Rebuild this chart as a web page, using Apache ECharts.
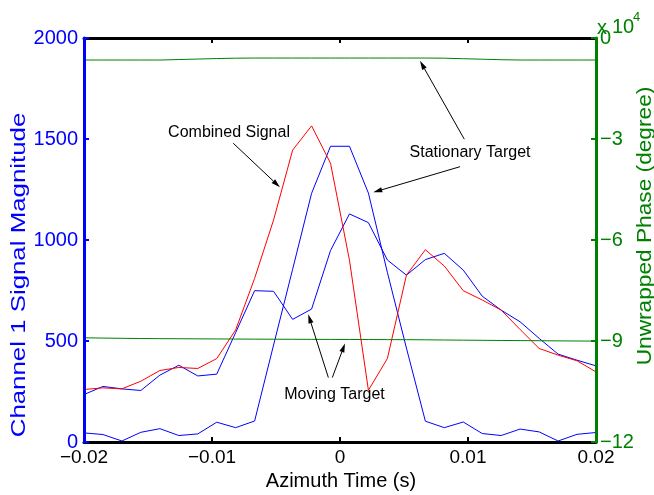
<!DOCTYPE html>
<html>
<head>
<meta charset="utf-8">
<script src="https://cdn.jsdelivr.net/npm/echarts@6/dist/echarts.min.js"></script>
<style>
  html, body { margin: 0; padding: 0; background: #fff; }
  #main { width: 654px; height: 495px; }
</style>
</head>
<body>
<div id="main"></div>
<script>
// Azimuth sample times (s)
const TIME = [-0.02000, -0.01852, -0.01704, -0.01556, -0.01407, -0.01259, -0.01111,
  -0.00963, -0.00815, -0.00667, -0.00519, -0.00370, -0.00222, -0.00074,
  0.00074, 0.00222, 0.00370, 0.00519, 0.00667, 0.00815, 0.00963,
  0.01111, 0.01259, 0.01407, 0.01556, 0.01704, 0.01852, 0.02000];

// Channel 1 magnitude
const STATIONARY_MAG = [45, 37, 5, 48, 66, 32, 40, 98, 71, 104, 480, 855, 1231, 1464,
  1464, 1232, 840, 465, 103, 71, 99, 42, 32, 64, 50, 5, 38, 47];
const MOVING_MAG = [235, 275, 263, 255, 331, 380, 327, 336, 542, 749, 746, 607, 658, 948,
  1129, 1086, 901, 826, 903, 934, 851, 722, 653, 595, 513, 435, 405, 377];
const COMBINED_MAG = [260, 268, 263, 301, 354, 369, 364, 413, 555, 810, 1099, 1445, 1565, 1380,
  900, 256, 413, 826, 952, 871, 749, 703, 653, 557, 463, 430, 402, 347];

// Unwrapped phase (degree)
const STATIONARY_PHASE = [-6540, -6540, -6540, -6540, -6540, -6400, -6250, -6100, -6000, -5950,
  -5950, -5950, -5950, -5950, -5950, -5950, -5950, -5950, -5950, -6000, -6150,
  -6300, -6450, -6540, -6540, -6540, -6540, -6540];
const MOVING_PHASE = [-89060, -89130, -89200, -89260, -89300, -89330, -89360, -89390, -89420,
  -89450, -89470, -89490, -89510, -89530, -89550, -89570, -89590, -89610, -89650,
  -89700, -89750, -89800, -89840, -89880, -89920, -89960, -90000, -90040];

// Callouts, anchored in (time, magnitude) coordinates
const CALLOUTS = [
  { text: 'Combined Signal', at: [-0.00867, 1530],
    arrows: [[[-0.00834, 1479], [-0.00469, 1261]]] },
  { text: 'Stationary Target', at: [0.01016, 1433],
    arrows: [[[0.00971, 1499], [0.00625, 1887]], [[0.00938, 1363], [0.00260, 1236]]] },
  { text: 'Moving Target', at: [-0.00043, 236],
    arrows: [[[-0.00091, 319], [-0.00248, 632]], [[-0.00060, 319], [0.00039, 488]]] }
];

const FONT = '"Liberation Sans", Arial, Helvetica, sans-serif';
const BLUE = '#0000ff', RED = '#ff0000', GREEN = '#008000', BLACK = '#000000';

function zip(xs, ys) { return xs.map((x, i) => [x, ys[i]]); }
function minusFmt(s) { return s.replace('-', '\u2212'); }

const chart = echarts.init(document.getElementById('main'));

const lineSeries = (name, data, color, yAxisIndex) => ({
  name, type: 'line', data, yAxisIndex, xAxisIndex: 0,
  showSymbol: false, symbol: 'none', animation: false,
  lineStyle: { color, width: 1 }, z: 3
});

chart.setOption({
  animation: false,
  backgroundColor: '#ffffff',
  grid: { left: 84, right: 58, top: 38, bottom: 53, containLabel: false },
  xAxis: [{
    type: 'value', position: 'bottom', min: -0.02, max: 0.02, interval: 0.01,
    axisLine: { onZero: false, lineStyle: { color: BLACK, width: 3 } },
    axisTick: { inside: true, length: 5, lineStyle: { color: BLACK, width: 2 } },
    axisLabel: {
      color: BLACK, fontSize: 19, fontFamily: FONT, margin: 6,
      formatter: v => {
        const r = Math.round(v * 100) / 100;
        return r === 0 ? '0' : minusFmt(r.toFixed(2));
      }
    },
    splitLine: { show: false }, z: 5
  }, {
    type: 'value', position: 'top', min: -0.02, max: 0.02, interval: 0.01,
    axisLine: { onZero: false, lineStyle: { color: BLACK, width: 3 } },
    axisTick: { inside: true, length: 5, lineStyle: { color: BLACK, width: 2 } },
    axisLabel: { show: false }, splitLine: { show: false }, z: 4
  }],
  yAxis: [{
    type: 'value', position: 'left', min: 0, max: 2000, interval: 500,
    axisLine: { show: true, onZero: false, lineStyle: { color: BLUE, width: 3 } },
    axisTick: { show: true, inside: true, length: 5, lineStyle: { color: BLUE, width: 2 } },
    axisLabel: { color: BLUE, fontSize: 20, fontFamily: FONT, margin: 6,
      formatter: v => String(Math.round(v)) },
    splitLine: { show: false }, z: 6
  }, {
    type: 'value', position: 'right', min: -120000, max: 0, interval: 30000,
    axisLine: { show: true, onZero: false, lineStyle: { color: GREEN, width: 3 } },
    axisTick: { show: true, inside: true, length: 5, lineStyle: { color: GREEN, width: 2 } },
    axisLabel: {
      color: GREEN, fontSize: 20, fontFamily: FONT, margin: 4,
      formatter: v => minusFmt(String(Math.round(v / 1e4)))
    },
    splitLine: { show: false }, z: 6
  }],
  series: [
    lineSeries('Stationary magnitude', zip(TIME, STATIONARY_MAG), BLUE, 0),
    lineSeries('Moving magnitude', zip(TIME, MOVING_MAG), BLUE, 0),
    lineSeries('Combined magnitude', zip(TIME, COMBINED_MAG), RED, 0),
    lineSeries('Stationary phase', zip(TIME, STATIONARY_PHASE), GREEN, 1),
    lineSeries('Moving phase', zip(TIME, MOVING_PHASE), GREEN, 1)
  ]
});

// Titles, exponent label and callout arrows
const toPx = p => chart.convertToPixel({ xAxisIndex: 0, yAxisIndex: 0 }, p);
const graphics = [];

function arrow(from, to) {
  const a = toPx(from), b = toPx(to);
  const dx = b[0] - a[0], dy = b[1] - a[1];
  const len = Math.hypot(dx, dy), ux = dx / len, uy = dy / len;
  const L = 9, W = 2.6;
  const bx = b[0] - ux * L, by = b[1] - uy * L;
  graphics.push({ type: 'line', z: 20, shape: { x1: a[0], y1: a[1], x2: bx, y2: by },
    style: { stroke: BLACK, lineWidth: 1 } });
  graphics.push({ type: 'polygon', z: 20,
    shape: { points: [[b[0], b[1]], [bx - uy * W, by + ux * W], [bx + uy * W, by - ux * W]] },
    style: { fill: BLACK } });
}

CALLOUTS.forEach(c => {
  const p = toPx(c.at);
  graphics.push({ type: 'text', z: 20, x: p[0], y: p[1],
    style: { text: c.text, fontSize: 16, fontFamily: FONT, fill: BLACK,
      align: 'center', verticalAlign: 'middle' } });
  c.arrows.forEach(ar => arrow(ar[0], ar[1]));
});

graphics.push({ type: 'text', x: 341, y: 481, z: 20,
  style: { text: 'Azimuth Time (s)', fontSize: 20, fontFamily: FONT, fill: BLACK,
    align: 'center', verticalAlign: 'middle' } });
graphics.push({ type: 'text', x: 19, y: 275, rotation: Math.PI / 2, scaleX: 1.23, z: 20,
  style: { text: 'Channel 1 Signal Magnitude', fontSize: 21, fontFamily: FONT, fill: BLUE,
    align: 'center', verticalAlign: 'middle' } });
graphics.push({ type: 'text', x: 645, y: 226, rotation: Math.PI / 2, scaleX: 1.08, z: 20,
  style: { text: 'Unwrapped Phase (degree)', fontSize: 21, fontFamily: FONT, fill: GREEN,
    align: 'center', verticalAlign: 'middle' } });
graphics.push({ type: 'text', x: 597, y: 28, z: 20,
  style: { text: 'x', fontSize: 20, fontFamily: FONT, fill: GREEN,
    align: 'left', verticalAlign: 'middle' } });
graphics.push({ type: 'text', x: 612, y: 27, z: 20,
  style: { text: '10', fontSize: 20, fontFamily: FONT, fill: GREEN,
    align: 'left', verticalAlign: 'middle' } });
graphics.push({ type: 'text', x: 633, y: 17, z: 20,
  style: { text: '4', fontSize: 13, fontFamily: FONT, fill: GREEN,
    align: 'left', verticalAlign: 'middle' } });

chart.setOption({ graphic: graphics });
</script>
</body>
</html>
